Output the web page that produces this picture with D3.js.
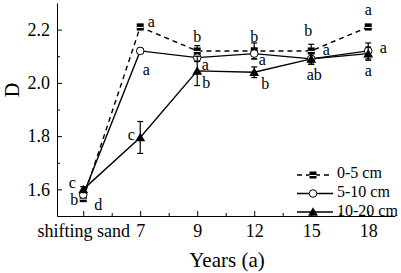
<!DOCTYPE html>
<html>
<head>
<meta charset="utf-8">
<script src="https://cdn.jsdelivr.net/npm/d3@7"></script>
<style>
  html, body { margin: 0; padding: 0; background: #fff; }
  svg { display: block; font-family: "Liberation Serif", "Times New Roman", serif; }
  .axis text { font-size: 18px; fill: #000; font-family: "Liberation Serif", "Times New Roman", serif; }
  .axis path, .axis line { stroke: #000; stroke-width: 1; }
  .sig { font-size: 16px; fill: #000; }
</style>
</head>
<body>
<div id="chart"></div>
<script>
const CATEGORIES = ["shifting sand", "7", "9", "12", "15", "18"];
const Y_TICKS = [1.6, 1.8, 2.0, 2.2];
const Y_MINOR = [1.7, 1.9, 2.1];

const D_0_5 = [1.565, 2.21, 2.12, 2.12, 2.12, 2.21];
const D_5_10 = [1.58, 2.12, 2.095, 2.11, 2.09, 2.12];
const D_10_20 = [1.60, 1.795, 2.045, 2.04, 2.09, 2.11];

const ERR_0_5 = [0.01, 0.01, 0.02, 0.03, 0.025, 0.01];
const ERR_5_10 = [0.01, 0.01, 0.015, 0.02, 0.02, 0.03];
const ERR_10_20 = [0.01, 0.06, 0.055, 0.02, 0.02, 0.025];

const SIG_0_5 = ["b", "a", "b", "b", "b", "a"];
const SIG_5_10 = ["c", "a", "a", "a", "a", "a"];
const SIG_10_20 = ["d", "c", "b", "b", "ab", "a"];

const SERIES = [
  { name: "0-5 cm", values: D_0_5, errors: ERR_0_5, letters: SIG_0_5, marker: "square", dash: "5,4" },
  { name: "5-10 cm", values: D_5_10, errors: ERR_5_10, letters: SIG_5_10, marker: "circle", dash: null },
  { name: "10-20 cm", values: D_10_20, errors: ERR_10_20, letters: SIG_10_20, marker: "triangle", dash: null },
];

// letter placement relative to each point (dx, dy to baseline)
const LETTER_OFFSETS = [
  [[-9, 6], [11, 0], [0, -9], [0, -9], [-3, -15], [0, -12]],
  [[-11, -7], [6, 24], [8, 12], [8, 11], [15, -4], [15, 2]],
  [[15, 21], [-9, 3], [9, 17], [11, 17], [3, 21], [0, 22]],
];

const width = 401;
const height = 273;
const margin = { top: 3, right: 6, bottom: 57, left: 57 };

const svg = d3.select("#chart").append("svg").attr("width", width).attr("height", height);

const x = d3.scaleLinear().domain([-0.46, 5.47]).range([margin.left, width - margin.right]);
const y = d3.scaleLinear().domain([1.5, 2.3]).range([height - margin.bottom, margin.top]);

// minor ticks
svg
  .append("g")
  .attr("class", "axis")
  .attr("transform", `translate(0, ${height - margin.bottom})`)
  .call(d3.axisBottom(x).tickValues(d3.range(0.5, 5.5, 1)).tickSize(-3).tickFormat(""))
  .call((g) => g.select(".domain").remove());

svg
  .append("g")
  .attr("class", "axis")
  .attr("transform", `translate(${margin.left}, 0)`)
  .call(d3.axisLeft(y).tickValues(Y_MINOR).tickSize(-3).tickFormat(""))
  .call((g) => g.select(".domain").remove());

svg
  .append("g")
  .attr("class", "axis")
  .attr("transform", `translate(0, ${height - margin.bottom})`)
  .call(
    d3
      .axisBottom(x)
      .tickValues(d3.range(CATEGORIES.length))
      .tickFormat((i) => CATEGORIES[i])
      .tickSizeInner(-5)
      .tickSizeOuter(0)
      .tickPadding(8),
  )
  .attr("font-family", null);

svg
  .append("g")
  .attr("class", "axis")
  .attr("transform", `translate(${margin.left}, 0)`)
  .call(d3.axisLeft(y).tickValues(Y_TICKS).tickFormat(d3.format(".1f")).tickSizeInner(-5).tickSizeOuter(0).tickPadding(7))
  .attr("font-family", null);

svg
  .append("text")
  .attr("x", 227)
  .attr("y", 267)
  .attr("text-anchor", "middle")
  .attr("font-size", 21)
  .text("Years (a)");

svg
  .append("text")
  .attr("transform", "translate(19, 90) rotate(-90)")
  .attr("text-anchor", "middle")
  .attr("font-size", 20)
  .text("D");

const line = d3
  .line()
  .x((d, i) => x(i))
  .y((d) => y(d));

function drawMarker(g, type, cx, cy) {
  if (type === "square") {
    g.append("rect").attr("x", cx - 3.5).attr("y", cy - 3.5).attr("width", 7).attr("height", 7).attr("fill", "#000");
    g.append("line").attr("x1", cx - 3.5).attr("x2", cx + 3.5).attr("y1", cy + 0.5).attr("y2", cy + 0.5).attr("stroke", "#fff").attr("stroke-width", 1);
  } else if (type === "circle") {
    g.append("circle").attr("cx", cx).attr("cy", cy).attr("r", 3.8).attr("fill", "#fff").attr("stroke", "#000").attr("stroke-width", 1);
  } else {
    g.append("path").attr("d", d3.symbol(d3.symbolTriangle, 42)()).attr("transform", `translate(${cx}, ${cy + 1})`).attr("fill", "#000");
  }
}

SERIES.forEach((s) => {
  svg
    .append("path")
    .datum(s.values)
    .attr("d", line)
    .attr("fill", "none")
    .attr("stroke", "#000")
    .attr("stroke-width", 1.4)
    .attr("stroke-dasharray", s.dash);
});

SERIES.forEach((s) => {
  const g = svg.append("g");
  s.values.forEach((v, i) => {
    const cx = x(i);
    const top = y(v + s.errors[i]);
    const bottom = y(v - s.errors[i]);
    g.append("line").attr("x1", cx).attr("x2", cx).attr("y1", top).attr("y2", bottom).attr("stroke", "#000").attr("stroke-width", 1.2);
    [top, bottom].forEach((yy) => {
      g.append("line").attr("x1", cx - 3).attr("x2", cx + 3).attr("y1", yy).attr("y2", yy).attr("stroke", "#000").attr("stroke-width", 1.2);
    });
    drawMarker(g, s.marker, cx, y(v));
  });
});

SERIES.forEach((s, si) => {
  svg
    .append("g")
    .selectAll("text")
    .data(s.letters)
    .join("text")
    .attr("class", "sig")
    .attr("text-anchor", "middle")
    .attr("x", (d, i) => x(i) + LETTER_OFFSETS[si][i][0])
    .attr("y", (d, i) => y(s.values[i]) + LETTER_OFFSETS[si][i][1])
    .text((d) => d);
});

// legend
const legend = svg.append("g");
SERIES.forEach((s, i) => {
  const ly = 175 + i * 18.5;
  legend
    .append("line")
    .attr("x1", 297)
    .attr("x2", 333)
    .attr("y1", ly)
    .attr("y2", ly)
    .attr("stroke", "#000")
    .attr("stroke-width", 1.4)
    .attr("stroke-dasharray", s.dash);
  drawMarker(legend, s.marker, 313, ly);
  legend
    .append("text")
    .attr("x", 337)
    .attr("y", ly + 3 + 0.5 * i)
    .attr("font-size", 16)
    .text(s.name);
});
</script>
</body>
</html>
